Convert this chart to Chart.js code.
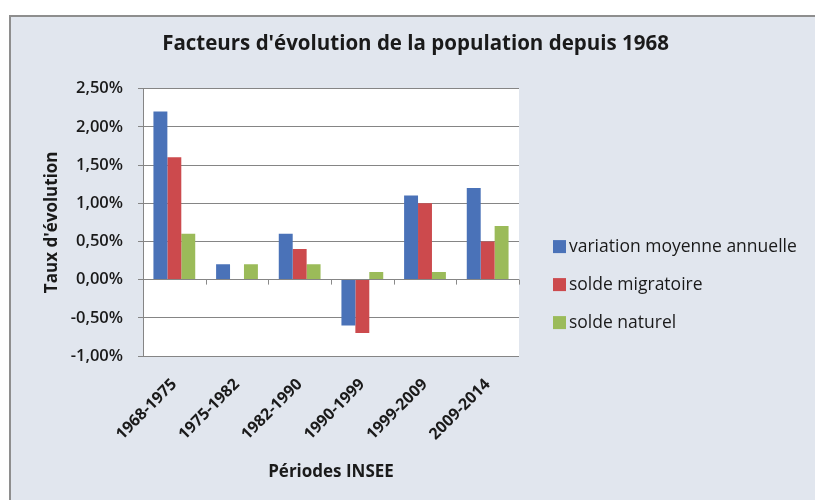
<!DOCTYPE html>
<html><head><meta charset="utf-8">
<script src="https://cdn.jsdelivr.net/npm/chart.js@4"></script>
<style>html,body{margin:0;padding:0;background:#fff;}#wrap{position:relative;width:815px;height:500px;}</style>
</head><body><div id="wrap"><canvas id="c" width="815" height="500"></canvas></div>
<script>
const categories = ['1968-1975','1975-1982','1982-1990','1990-1999','1999-2009','2009-2014'];
const variationMoyenne = [2.2, 0.2, 0.6, -0.6, 1.1, 1.2];
const soldeMigratoire = [1.6, 0.0, 0.4, -0.7, 1.0, 0.5];
const soldeNaturel = [0.6, 0.2, 0.2, 0.1, 0.1, 0.7];
const seriesLabels = ['variation moyenne annuelle', 'solde migratoire', 'solde naturel'];
const seriesColors = ['#4a72b8', '#cc4a4d', '#9bbb59'];
const yMin = -1.0, yMax = 2.5, yStep = 0.5;
const titleText = "Facteurs d'évolution de la population depuis 1968";
const xTitle = 'Périodes INSEE';
const yTitle = "Taux d'évolution";

const FONT = "'Open Sans', 'DejaVu Sans', sans-serif";
const fmt = v => v.toFixed(2).replace('.', ',') + '%';

const bgPlugin = {
  id: 'bg',
  beforeDraw(chart) {
    const ctx = chart.ctx, a = chart.chartArea;
    ctx.save();
    ctx.fillStyle = '#ffffff';
    ctx.fillRect(0, 0, chart.width, chart.height);
    ctx.fillStyle = '#e1e6ee';
    ctx.fillRect(10, 16, chart.width - 10, chart.height - 16);
    ctx.strokeStyle = '#8e8e8e';
    ctx.lineWidth = 2;
    ctx.beginPath();
    ctx.moveTo(10, chart.height);
    ctx.lineTo(10, 16);
    ctx.lineTo(chart.width, 16);
    ctx.stroke();
    ctx.fillStyle = '#ffffff';
    ctx.fillRect(a.left, a.top, a.right - a.left, a.bottom - a.top);
    ctx.restore();
  }
};

const zeroTicks = {
  id: 'zeroTicks',
  afterDatasetsDraw(chart) {
    const ctx = chart.ctx, xs = chart.scales.x, ys = chart.scales.y;
    const y0 = ys.getPixelForValue(0);
    const n = categories.length;
    const w = (xs.right - xs.left) / n;
    ctx.save();
    ctx.strokeStyle = '#8a8a8a';
    ctx.lineWidth = 1;
    ctx.beginPath();
    for (let i = 1; i <= n; i++) {
      const x = Math.round(xs.left + i * w) + 0.5;
      ctx.moveTo(x, y0);
      ctx.lineTo(x, y0 + 5);
    }
    ctx.stroke();
    ctx.restore();
  }
};

const legendPlugin = {
  id: 'customLegend',
  afterDraw(chart) {
    const ctx = chart.ctx, a = chart.chartArea;
    ctx.save();
    ctx.font = "17.5px " + FONT;
    ctx.textBaseline = 'middle';
    ctx.textAlign = 'left';
    chart.data.datasets.forEach((ds, i) => {
      const x = a.right + 34;
      const y = a.top + 158 + i * 38;
      ctx.fillStyle = ds.backgroundColor;
      ctx.fillRect(x, y - 6.5, 13, 13);
      ctx.fillStyle = '#1a1a1a';
      ctx.fillText(ds.label, x + 16, y);
    });
    ctx.restore();
  }
};

new Chart(document.getElementById('c'), {
  type: 'bar',
  data: {
    labels: categories,
    datasets: [
      { label: seriesLabels[0], data: variationMoyenne, backgroundColor: seriesColors[0] },
      { label: seriesLabels[1], data: soldeMigratoire, backgroundColor: seriesColors[1] },
      { label: seriesLabels[2], data: soldeNaturel, backgroundColor: seriesColors[2] }
    ]
  },
  options: {
    responsive: false,
    devicePixelRatio: 1,
    animation: false,
    categoryPercentage: 0.667,
    barPercentage: 1.0,
    layout: { padding: { left: 16, right: 0, top: 0, bottom: 0 } },
    plugins: {
      legend: { display: false },
      tooltip: { enabled: false },
      title: {
        display: true, text: titleText, color: '#1a1a1a',
        font: { family: FONT, size: 20.5, weight: 'bold' },
        padding: { top: 32, bottom: 32 }
      }
    },
    scales: {
      x: {
        grid: { display: false },
        border: { display: false },
        ticks: {
          color: '#1a1a1a', maxRotation: 45, minRotation: 45, padding: 11,
          font: { family: FONT, size: 16, weight: 'bold' }
        },
        title: {
          display: true, text: xTitle, color: '#1a1a1a',
          font: { family: FONT, size: 17, weight: 'bold' },
          padding: { top: 0, bottom: 18 }
        },
        afterFit(s) { s.height = 144; }
      },
      y: {
        min: yMin, max: yMax,
        ticks: {
          stepSize: yStep, color: '#1a1a1a', padding: 15,
          font: { family: FONT, size: 16.5, weight: '600' },
          callback: v => fmt(v)
        },
        grid: { color: '#858585', lineWidth: 1, tickLength: 5, drawTicks: true },
        border: { display: true, color: '#858585' },
        title: {
          display: true, text: yTitle, color: '#1a1a1a',
          font: { family: FONT, size: 17, weight: 'bold' },
          padding: { top: 26, bottom: 0 }
        },
        afterFit(s) { s.width = 127; }
      },
      yRight: {
        position: 'right',
        display: true,
        grid: { display: false },
        border: { display: false },
        ticks: { display: false },
        afterFit(s) { s.width = 296; }
      }
    }
  },
  plugins: [bgPlugin, zeroTicks, legendPlugin]
});
</script>
</body></html>
